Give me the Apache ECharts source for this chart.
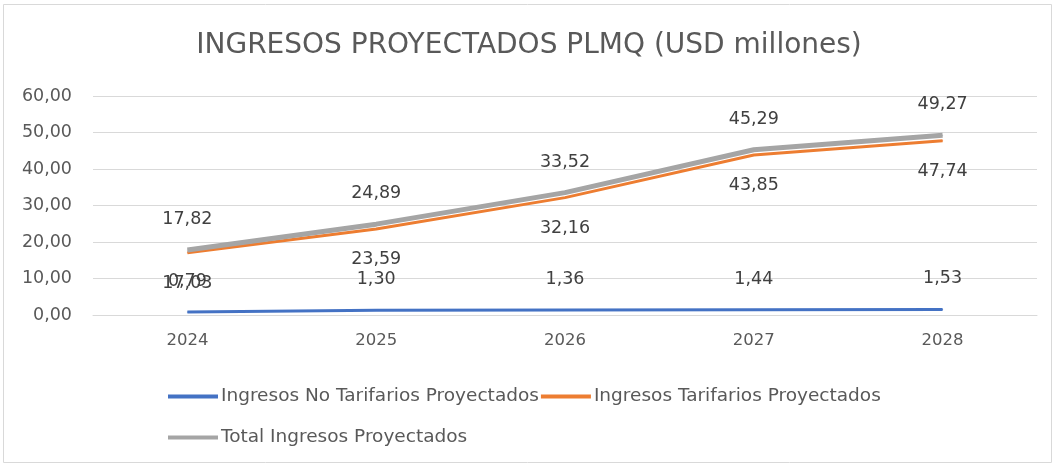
<!DOCTYPE html>
<html>
<head>
<meta charset="utf-8">
<script src="https://cdn.jsdelivr.net/npm/echarts@6/dist/echarts.min.js"></script>
<style>
  html, body { margin: 0; padding: 0; background: #fff; }
  #main { width: 1058px; height: 465px; }
</style>
</head>
<body>
<div id="main"></div>
<script>
// datos del grafico
const years = ['2024', '2025', '2026', '2027', '2028']
const noTarifarios = [0.79, 1.30, 1.36, 1.44, 1.53]   // Ingresos No Tarifarios
const tarifarios = [17.03, 23.59, 32.16, 43.85, 47.74]  // Ingresos Tarifarios
const total = [17.82, 24.89, 33.52, 45.29, 49.27]       // Total
const yTicks = { min: 0, max: 60, interval: 10 }

const font = 'DejaVu Sans'
const fmt = v => v.toFixed(2).replace('.', ',')

const chart = echarts.init(document.getElementById('main'))

function lineSeries(name, data, color, width, pos) {
  return {
    name: name,
    type: 'line',
    data: data,
    symbol: 'circle',
    symbolSize: 1,
    lineStyle: { color: color, width: width },
    itemStyle: { color: color },
    label: {
      show: true,
      position: pos,
      distance: 21,
      color: '#404040',
      fontSize: 17.5,
      fontFamily: font,
      formatter: p => fmt(p.value)
    }
  }
}

chart.setOption({
  title: {
    text: 'INGRESOS PROYECTADOS PLMQ (USD millones)',
    left: 'center',
    top: 27,
    textStyle: { color: '#595959', fontSize: 28, fontWeight: 'normal', fontFamily: font }
  },
  graphic: [{
    type: 'rect',
    shape: { x: 3.5, y: 4.5, width: 1048, height: 458 },
    style: { fill: 'none', stroke: '#d9d9d9', lineWidth: 1 },
    silent: true
  }],
  legend: [
    {
      data: ['Ingresos No Tarifarios Proyectados', 'Ingresos Tarifarios Proyectados'],
      left: 163,
      top: 382,
      itemWidth: 50,
      itemHeight: 4,
      itemGap: 2,
      icon: 'rect',
      textStyle: { color: '#595959', fontSize: 18.5, fontFamily: font, padding: [0, 0, 0, -2] }
    },
    {
      data: ['Total Ingresos Proyectados'],
      left: 163,
      top: 423,
      itemWidth: 50,
      itemHeight: 4,
      icon: 'rect',
      textStyle: { color: '#595959', fontSize: 18.5, fontFamily: font, padding: [0, 0, 0, -2] }
    }
  ],
  grid: { left: 93, right: 21, top: 96, bottom: 150 },
  xAxis: {
    type: 'category',
    data: years,
    boundaryGap: true,
    axisLine: { lineStyle: { color: '#d9d9d9' } },
    axisTick: { show: false },
    axisLabel: { color: '#595959', fontSize: 16.5, fontFamily: font, margin: 17 }
  },
  yAxis: {
    type: 'value',
    min: yTicks.min,
    max: yTicks.max,
    interval: yTicks.interval,
    axisLine: { show: false },
    axisTick: { show: false },
    splitLine: { lineStyle: { color: '#d9d9d9' } },
    axisLabel: { color: '#595959', fontSize: 17.5, fontFamily: font, margin: 21, formatter: v => fmt(v) }
  },
  series: [
    lineSeries('Ingresos No Tarifarios Proyectados', noTarifarios, '#4472C4', 3, 'top'),
    lineSeries('Ingresos Tarifarios Proyectados', tarifarios, '#ED7D31', 3, 'bottom'),
    lineSeries('Total Ingresos Proyectados', total, '#A5A5A5', 5, 'top')
  ]
})
</script>
</body>
</html>
